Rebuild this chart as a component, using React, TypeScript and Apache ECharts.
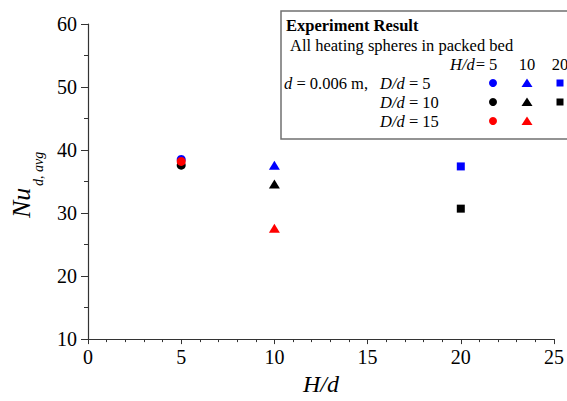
import { useEffect, useRef } from 'react';
import * as echarts from 'echarts';

const hdValues = [5, 10, 20];
const nuDd5 = [38.5, 37.6, 37.4];
const nuDd10 = [37.6, 34.6, 30.7];
const nuDd15 = [38.2, 27.6];
const groupNames = ['D/d = 5', 'D/d = 10', 'D/d = 15'];
const groupValues = [nuDd5, nuDd10, nuDd15];
const groupColors = ['#0000ff', '#000000', '#ff0000'];
const hdSymbols = ['circle', 'triangle', 'rect'];
const hdSymbolSizes: any[] = [9, [11, 9], 8];
const legendHeader = ['5', '10', '20'];
const drawOrder = [1, 0, 2];

const SERIF = '"Liberation Serif", "Times New Roman", serif';
const LF = 16.5;

export default function App() {
  const ref = useRef<HTMLDivElement>(null);
  useEffect(() => {
    if (!ref.current) return;
    const chart = echarts.init(ref.current, undefined, { renderer: 'svg' });

    const series: any[] = [];
    drawOrder.forEach((g) => {
      groupValues[g].forEach((v, i) => {
        series.push({
          type: 'scatter',
          name: groupNames[g] + ' H/d=' + hdValues[i],
          symbol: hdSymbols[i],
          symbolSize: hdSymbolSizes[i],
          itemStyle: { color: groupColors[g], opacity: 1 },
          data: [[hdValues[i], v]],
        });
      });
    });

    const legendCols = [493, 527, 560];
    const legendRows = [83, 102, 121];
    const legendEls: any[] = [
      {
        type: 'rect',
        shape: { x: 281, y: 11, width: 320, height: 128 },
        style: { fill: '#ffffff', stroke: '#707070', lineWidth: 1.5 },
      },
      {
        type: 'text', x: 286, y: 25,
        style: { text: 'Experiment Result', font: `bold ${LF}px ${SERIF}`, fill: '#000', verticalAlign: 'middle', align: 'left' },
      },
      {
        type: 'text', x: 290, y: 45,
        style: { text: 'All heating spheres in packed bed', font: `${LF}px ${SERIF}`, fill: '#000', verticalAlign: 'middle', align: 'left' },
      },
      {
        type: 'text', x: 486, y: 64,
        style: { text: 'H/d=', font: `italic ${LF}px ${SERIF}`, fill: '#000', verticalAlign: 'middle', align: 'right' },
      },
      {
        type: 'text', x: 284, y: legendRows[0],
        style: {
          text: '{i|d} = 0.006 m,',
          rich: {
            i: { fontStyle: 'italic', fontSize: LF, fontFamily: SERIF, fill: '#000' },
          },
          fontSize: LF, fontFamily: SERIF, fill: '#000', verticalAlign: 'middle', align: 'left',
        },
      },
    ];
    legendHeader.forEach((t, i) => {
      legendEls.push({
        type: 'text', x: legendCols[i], y: 64,
        style: { text: t, font: `${LF}px ${SERIF}`, fill: '#000', verticalAlign: 'middle', align: 'center' },
      });
    });
    groupNames.forEach((name, g) => {
      const num = name.split('= ')[1];
      legendEls.push({
        type: 'text', x: 380, y: legendRows[g],
        style: {
          text: '{i|D/d} = ' + num,
          rich: { i: { fontStyle: 'italic', fontSize: LF, fontFamily: SERIF, fill: '#000' } },
          fontSize: LF, fontFamily: SERIF, fill: '#000', verticalAlign: 'middle', align: 'left',
        },
      });
      groupValues[g].forEach((_, i) => {
        const cx = legendCols[i];
        const cy = legendRows[g];
        const color = groupColors[g];
        if (hdSymbols[i] === 'circle') {
          legendEls.push({ type: 'circle', shape: { cx, cy, r: 4 }, style: { fill: color } });
        } else if (hdSymbols[i] === 'triangle') {
          legendEls.push({
            type: 'polygon',
            shape: { points: [[cx - 5.5, cy + 4], [cx + 5.5, cy + 4], [cx, cy - 4.5]] },
            style: { fill: color },
          });
        } else {
          legendEls.push({ type: 'rect', shape: { x: cx - 3.5, y: cy - 3.5, width: 7, height: 7 }, style: { fill: color } });
        }
      });
    });

    const option: any = {
      animation: false,
      backgroundColor: '#ffffff',
      grid: { left: 88, right: 13, top: 24, bottom: 61, containLabel: false },
      xAxis: {
        type: 'value', min: 0, max: 25, interval: 5,
        name: 'H/d', nameLocation: 'middle', nameGap: 29,
        nameTextStyle: { fontFamily: SERIF, fontSize: 24, fontStyle: 'italic', color: '#000' },
        axisLine: { show: true, onZero: false, lineStyle: { color: '#333', width: 1.2 } },
        axisTick: { show: true, length: 5, lineStyle: { color: '#333' } },
        minorTick: { show: true, splitNumber: 5, length: 3, lineStyle: { color: '#333' } },
        splitLine: { show: false },
        axisLabel: { fontFamily: SERIF, fontSize: 20, color: '#000', margin: 8 },
      },
      yAxis: {
        type: 'value', min: 10, max: 60, interval: 10,
        axisLine: { show: true, onZero: false, lineStyle: { color: '#333', width: 1.2 } },
        axisTick: { show: true, length: 7, lineStyle: { color: '#333' } },
        minorTick: { show: true, splitNumber: 2, length: 4, lineStyle: { color: '#333' } },
        splitLine: { show: false },
        axisLabel: { fontFamily: SERIF, fontSize: 20, color: '#000', margin: 11 },
      },
      series,
      graphic: [
        {
          type: 'text', x: 21, y: 218, rotation: Math.PI / 2,
          style: { text: 'Nu', font: `italic 26px ${SERIF}`, fill: '#000', align: 'left', verticalAlign: 'middle' },
        },
        {
          type: 'text', x: 38, y: 186, rotation: Math.PI / 2,
          style: { text: 'd, avg', font: `italic 14px ${SERIF}`, fill: '#000', align: 'left', verticalAlign: 'middle' },
        },
        { type: 'group', children: legendEls, z: 100 },
      ],
    };
    chart.setOption(option);
    return () => chart.dispose();
  }, []);

  return (
    <div
      ref={ref}
      style={{ position: 'absolute', left: 0, top: 0, width: 567, height: 401, background: '#fff' }}
    />
  );
}
